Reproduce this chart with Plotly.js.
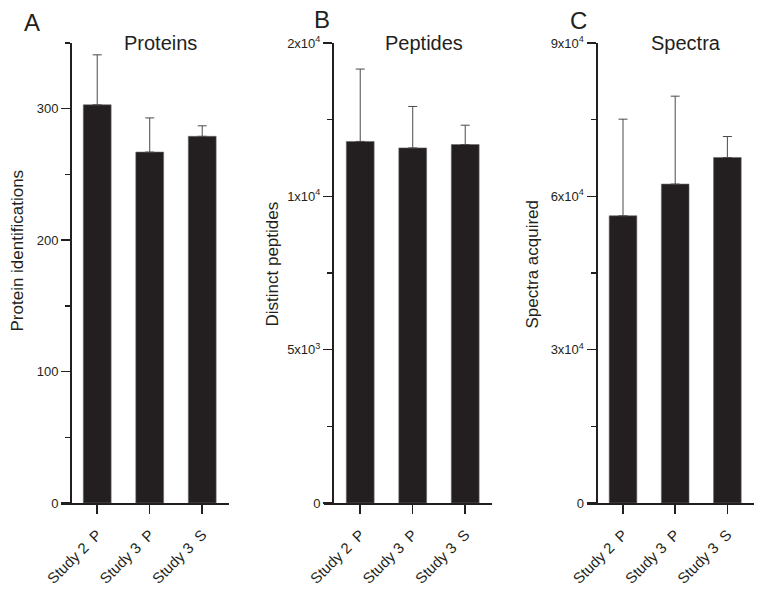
<!DOCTYPE html>
<html>
<head>
<meta charset="utf-8">
<script src="https://cdn.plot.ly/plotly-3.0.1.min.js"></script>
<style>html,body{margin:0;padding:0;background:#fff;}#chart{width:764px;height:592px;}</style>
</head>
<body>
<div id="chart"></div>
<script>
// ---- data ----
const categories = ['Study 2\u00a0 P', 'Study 3\u00a0 P', 'Study 3\u00a0 S'];

const proteins = [303, 267, 279];
const proteinsErr = [38, 26, 8];

const peptides = [11790, 11580, 11690];
const peptidesErr = [2360, 1350, 630];

const spectra = [56200, 62400, 67600];
const spectraErr = [18900, 17200, 4100];

const panelTitles = ['Proteins', 'Peptides', 'Spectra'];
const panelLetters = ['A', 'B', 'C'];
const yTitles = ['Protein identifications', 'Distinct peptides', 'Spectra acquired'];

const protTickVals = [0, 100, 200, 300];
const protTickText = ['0', '100', '200', '300'];
const protMinor = [50, 150, 250, 350];

const pepTickVals = [0, 5000, 10000, 15000];
const pepTickText = ['0', '5x10<sup>3</sup>', '1x10<sup>4</sup>', '2x10<sup>4</sup>'];
const pepMinor = [2500, 7500, 12500];

const specTickVals = [0, 30000, 60000, 90000];
const specTickText = ['0', '3x10<sup>4</sup>', '6x10<sup>4</sup>', '9x10<sup>4</sup>'];
const specMinor = [15000, 45000, 75000];

// ---- styling / layout ----
const W = 764, H = 592;
const ink = '#231f20';
const font = 'Arial, "Liberation Sans", sans-serif';
const px = v => v / W;
const py = v => 1 - v / H;

const xDomains = [[61, 229], [324, 492], [587, 754]];
const yAxisPos = [71, 333, 596.5];
const yRanges = [[0, 350], [0, 15000], [0, 90000]];
const yDomain = [py(503), py(43)];

function barTrace(vals, errs, i) {
  const s = i === 0 ? '' : String(i + 1);
  return {
    type: 'bar', x: categories, y: vals, width: 0.53,
    xaxis: 'x' + s, yaxis: 'y' + s,
    marker: {color: ink, line: {color: '#6a6a6a', width: 0.6}},
    error_y: {type: 'data', symmetric: false, array: errs, arrayminus: errs.map(() => 0),
              color: '#4a4a4a', thickness: 1, width: 4.5},
    hoverinfo: 'skip', showlegend: false
  };
}

const data = [
  barTrace(proteins, proteinsErr, 0),
  barTrace(peptides, peptidesErr, 1),
  barTrace(spectra, spectraErr, 2)
];

const tickSets = [
  [protTickVals, protTickText, protMinor],
  [pepTickVals, pepTickText, pepMinor],
  [specTickVals, specTickText, specMinor]
];

const layout = {
  width: W, height: H,
  margin: {l: 0, r: 0, t: 0, b: 0},
  paper_bgcolor: '#fff', plot_bgcolor: 'rgba(0,0,0,0)',
  bargap: 0,
  font: {family: font, color: ink},
  annotations: []
};

for (let i = 0; i < 3; i++) {
  const s = i === 0 ? '' : String(i + 1);
  layout['xaxis' + s] = {
    domain: [px(xDomains[i][0]), px(xDomains[i][1])],
    anchor: 'y' + s,
    type: 'category',
    range: [-0.69, 2.51],
    showline: true, linecolor: ink, linewidth: 2,
    ticks: 'outside', ticklen: 9, tickwidth: 1.5, tickcolor: ink,
    tickangle: -45, ticklabelstandoff: 6,
    tickfont: {family: font, size: 15, color: ink},
    showgrid: false, zeroline: false, fixedrange: true, automargin: false
  };
  layout['yaxis' + s] = {
    domain: yDomain,
    anchor: 'free', position: px(yAxisPos[i]),
    range: yRanges[i],
    showline: true, linecolor: ink, linewidth: 2,
    tickmode: 'array', tickvals: tickSets[i][0], ticktext: tickSets[i][1],
    ticks: 'outside', ticklen: 9, tickwidth: 1.5, tickcolor: ink,
    minor: {tickmode: 'array', tickvals: tickSets[i][2], ticks: 'outside', ticklen: 5, tickwidth: 1.5, tickcolor: ink, showgrid: false},
    tickfont: {family: font, size: 13, color: ink},
    showgrid: false, zeroline: false, fixedrange: true, automargin: false
  };
}

const titleX = [160, 424, 686];
const letterX = [31.5, 322, 578];
const letterY = [22, 19, 20.5];
const yTitleX = [16.5, 272, 531.5];
const yTitleY = [251, 264.5, 264];

for (let i = 0; i < 3; i++) {
  layout.annotations.push({
    xref: 'paper', yref: 'paper', x: px(titleX[i]), y: py(43),
    xanchor: 'center', yanchor: 'middle', showarrow: false,
    text: panelTitles[i], font: {family: font, size: 20, color: ink}
  });
  layout.annotations.push({
    xref: 'paper', yref: 'paper', x: px(letterX[i]), y: py(letterY[i]),
    xanchor: 'center', yanchor: 'middle', showarrow: false,
    text: panelLetters[i], font: {family: font, size: 24, color: ink}
  });
  layout.annotations.push({
    xref: 'paper', yref: 'paper', x: px(yTitleX[i]), y: py(yTitleY[i]),
    xanchor: 'center', yanchor: 'middle', showarrow: false, textangle: -90,
    text: yTitles[i], font: {family: font, size: 17, color: ink}
  });
}

Plotly.newPlot('chart', data, layout, {displayModeBar: false, staticPlot: true});
</script>
</body>
</html>
